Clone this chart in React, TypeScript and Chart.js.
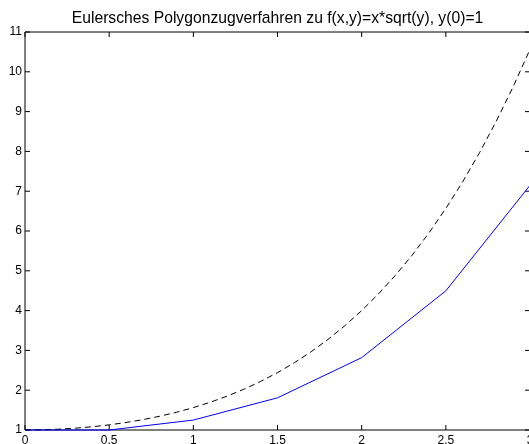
import React, { useEffect, useRef } from "react";
import { Chart, registerables } from "chart.js";

Chart.register(...registerables);

const TITLE = "Eulersches Polygonzugverfahren zu f(x,y)=x*sqrt(y), y(0)=1";

// Euler polygon (h = 0.5)
const eulerX = [0, 0.5, 1, 1.5, 2, 2.5, 3];
const eulerY = [1, 1, 1.25, 1.809, 2.818, 4.497, 7.148];

// exact solution (dashed)
const exactX = [0, 0.1, 0.2, 0.3, 0.4, 0.5, 0.6, 0.7, 0.8, 0.9, 1.0, 1.1, 1.2, 1.3, 1.4, 1.5, 1.6, 1.7, 1.8, 1.9, 2.0, 2.1, 2.2, 2.3, 2.4, 2.5, 2.6, 2.7, 2.8, 2.9, 3.0];
const exactY = [1, 1.005, 1.0201, 1.0455, 1.0816, 1.1289, 1.1881, 1.26, 1.3456, 1.446, 1.5625, 1.6965, 1.8496, 2.0235, 2.2201, 2.4414, 2.6896, 2.967, 3.2761, 3.6195, 4.0, 4.4205, 4.8841, 5.394, 5.9536, 6.5664, 7.2361, 7.9665, 8.7616, 9.6255, 10.5625];

const xTicks = [0, 0.5, 1, 1.5, 2, 2.5, 3];
const yTicks = [1, 2, 3, 4, 5, 6, 7, 8, 9, 10, 11];

const FONT = "'Liberation Sans', Arial, Helvetica, sans-serif";

const framePlugin = {
  id: "frame",
  beforeDatasetsDraw(chart: any) {
    const { ctx, chartArea, scales } = chart;
    const { left, right, top, bottom } = chartArea;
    const xs = scales.x;
    const ys = scales.y;
    ctx.save();
    ctx.strokeStyle = "#000";
    ctx.lineWidth = 1;
    ctx.beginPath();
    ctx.rect(left, top, right - left, bottom - top);
    const tl = 5;
    xTicks.forEach((v) => {
      const px = xs.getPixelForValue(v);
      ctx.moveTo(px, bottom);
      ctx.lineTo(px, bottom - tl);
      ctx.moveTo(px, top);
      ctx.lineTo(px, top + tl);
    });
    yTicks.forEach((v) => {
      const py = ys.getPixelForValue(v);
      ctx.moveTo(left, py);
      ctx.lineTo(left + tl, py);
      ctx.moveTo(right, py);
      ctx.lineTo(right - tl, py);
    });
    ctx.stroke();
    ctx.restore();
  },
};

const titlePlugin = {
  id: "ctitle",
  afterDraw(chart: any) {
    const { ctx, chartArea } = chart;
    ctx.save();
    ctx.fillStyle = "#000";
    ctx.font = `15.7px ${FONT}`;
    ctx.textAlign = "center";
    ctx.textBaseline = "alphabetic";
    ctx.fillText(TITLE, (chartArea.left + chartArea.right) / 2, 23);
    ctx.restore();
  },
};

export default function App() {
  const ref = useRef<HTMLCanvasElement>(null);
  useEffect(() => {
    const canvas = ref.current!;
    const chart = new Chart(canvas, {
      type: "line",
      data: {
        datasets: [
          {
            label: "Euler",
            data: eulerX.map((x, i) => ({ x, y: eulerY[i] })),
            borderColor: "#0000ff",
            borderWidth: 1,
            pointRadius: 0,
            tension: 0,
            fill: false,
            clip: 3,
          } as any,
          {
            label: "exakt",
            data: exactX.map((x, i) => ({ x, y: exactY[i] })),
            borderColor: "#000000",
            borderWidth: 1,
            borderDash: [6, 4],
            pointRadius: 0,
            tension: 0,
            fill: false,
            clip: 3,
          } as any,
        ],
      },
      options: {
        animation: false,
        responsive: false,
        devicePixelRatio: 1,
        layout: { padding: { top: 32, left: 0, right: 0, bottom: 0 } },
        plugins: {
          legend: { display: false },
          title: { display: false },
          tooltip: { enabled: false },
        },
        scales: {
          x: {
            type: "linear",
            min: 0,
            max: 3,
            grid: { display: false, drawTicks: false },
            border: { display: false },
            ticks: {
              stepSize: 0.5,
              padding: 3,
              autoSkip: false,
              maxRotation: 0,
              color: "#000",
              font: { family: FONT, size: 12 },
              callback: (v: any) => String(v),
            },
            afterFit: (s: any) => {
              s.height = 14;
              s.paddingLeft = 0;
              s.paddingRight = 0;
            },
          },
          y: {
            type: "linear",
            min: 1,
            max: 11,
            grid: { display: false, drawTicks: false },
            border: { display: false },
            ticks: {
              stepSize: 1,
              padding: 3,
              color: "#000",
              font: { family: FONT, size: 12 },
              callback: (v: any) => String(v),
            },
            afterFit: (s: any) => {
              s.width = 25;
              s.paddingTop = 0;
              s.paddingBottom = 0;
            },
          },
        },
      },
      plugins: [framePlugin, titlePlugin],
    });
    return () => chart.destroy();
  }, []);
  return (
    <div style={{ position: "fixed", left: 0, top: 0, width: 529, height: 444, overflow: "hidden", background: "#fff" }}>
      <canvas ref={ref} width={530} height={444} style={{ display: "block" }} />
    </div>
  );
}
